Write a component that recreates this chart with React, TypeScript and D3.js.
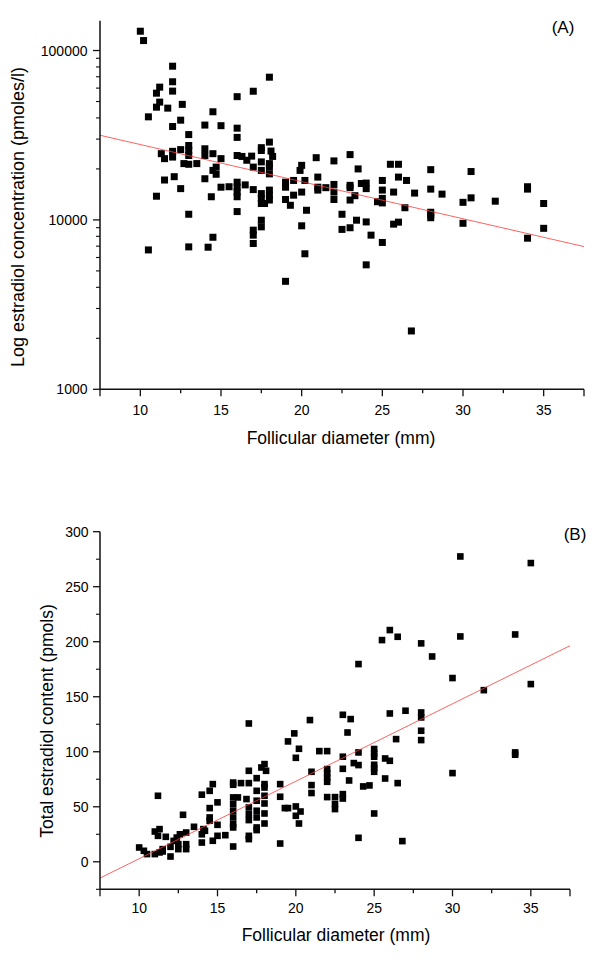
import React from "react";
import * as d3 from "d3";

// Panel A: follicular diameter (mm) vs estradiol concentration (pmoles/l)
const diamA = [10.0,10.2,10.5,10.5,11.0,11.0,11.0,11.2,11.2,11.3,11.5,11.5,11.7,12.0,12.0,12.0,12.0,12.0,12.0,12.1,12.5,12.5,12.5,12.6,12.7,13.0,13.0,13.0,13.0,13.0,13.0,13.0,13.5,14.0,14.0,14.0,14.0,14.2,14.4,14.5,14.5,14.5,14.5,14.7,14.7,15.0,15.0,15.0,15.5,16.0,16.0,16.0,16.0,16.0,16.0,16.0,16.0,16.0,16.3,16.5,16.6,16.9,17.0,17.0,17.0,17.0,17.0,17.0,17.5,17.5,17.5,17.5,17.5,17.5,17.5,17.7,17.5,17.5,18.0,18.0,18.1,18.2,18.0,18.0,18.0,18.0,18.0,18.0,19.0,19.0,19.0,19.0,19.3,19.5,19.5,20.0,19.9,20.2,20.0,20.3,20.0,20.2,20.9,21.0,21.0,21.0,21.5,22.0,22.0,22.0,22.0,22.5,22.5,23.0,23.5,23.0,23.0,23.0,23.3,23.0,23.4,23.7,24.0,24.0,24.0,24.3,24.0,25.0,25.0,25.0,25.0,24.7,25.0,25.5,26.0,26.0,26.5,25.7,26.4,25.7,26.0,26.8,27.0,28.0,28.0,28.0,28.0,28.0,28.7,30.0,30.5,30.0,30.5,32.0,34.0,34.0,34.0,35.0,35.0];
const estradiolA = [130000,114500,40600,6650,56000,46300,13800,60800,49600,24600,23000,17200,45700,80800,65400,57600,35600,25400,23500,18000,38800,26000,15300,48100,21500,31900,27500,25800,24000,21300,10800,6930,21500,36300,26300,24000,17500,6900,13700,43500,24600,19600,7900,20500,18600,36000,23000,15600,15700,53400,34800,30700,24000,16700,15600,14600,13700,11200,23700,16100,22500,23800,57500,20500,15100,8700,8130,7260,26700,25700,22000,19600,14300,13400,12500,12500,9960,9100,69600,28800,25500,23700,21500,20500,18700,15000,14000,13100,16700,15600,13200,4340,12200,17100,14000,21000,19600,17100,14600,11400,9230,6310,23300,17900,15600,15000,15500,22300,16200,14600,13200,10800,8790,24300,20000,16000,15500,13100,13900,8990,9960,16400,16500,15300,9730,8130,5430,17100,15000,13400,12600,12800,7360,21300,21300,17900,17100,14600,11800,9440,9700,2210,14400,19800,15200,11100,10700,10300,14200,12700,13500,9550,19300,12900,15700,15200,7800,12500,8920];
const fitA_x = [7.5, 37.5];
const fitA_y = [31600, 6960];
const yTicksMajorA = [1000, 10000, 100000];
const yTicksMinorA = [2000,3000,4000,5000,6000,7000,8000,9000,20000,30000,40000,50000,60000,70000,80000,90000];

// Panel B: follicular diameter (mm) vs total estradiol content (pmols)
const diamB = [10.0,10.3,10.5,11.0,11.2,11.0,11.3,11.2,11.7,11.5,11.3,11.5,12.0,12.0,12.2,12.4,12.6,12.8,12.5,12.5,13.0,13.0,13.0,13.5,14.0,14.0,14.0,14.1,14.5,14.7,14.5,14.5,14.5,14.2,14.7,15.0,15.0,15.0,15.5,16.0,16.0,16.0,16.0,16.0,16.0,16.0,16.0,16.0,16.3,16.5,17.0,17.0,17.0,16.85,17.0,17.0,17.0,17.0,17.0,17.5,17.5,17.5,17.5,17.5,17.5,17.5,18.0,18.1,17.8,18.0,18.0,18.0,18.0,18.0,18.0,19.0,19.0,19.0,19.3,19.5,19.5,19.9,20.2,20.0,20.0,20.0,20.3,20.2,20.9,21.0,21.0,21.0,21.5,22.0,22.0,22.0,22.0,22.0,22.0,22.5,22.5,22.5,23.0,23.5,23.3,23.0,23.0,23.0,23.0,23.4,23.7,24.0,24.0,24.0,24.0,24.3,24.7,25.0,25.0,25.0,25.0,25.0,25.0,25.0,25.5,25.7,25.7,26.0,26.0,26.0,26.4,26.5,26.5,26.8,27.0,28.0,28.0,28.0,28.0,28.0,28.7,30.0,30.0,30.5,30.5,32.0,34.0,34.0,34.0,35.0,35.0];
const contentB = [13,10,7,7,60,27.5,29.7,23.6,22.7,11.5,8.5,9.4,13.6,4.8,19,22,25,42.7,16,11.5,26.6,16,11.5,31.8,61,25,17.5,29.7,64.5,70.6,48.8,40.3,37.3,28.2,19.1,54,33.6,23.6,24.2,72,70,58.5,52.4,46.4,40.3,34.3,31.2,13.9,58.5,71.5,125.7,82.7,71.5,57,49.4,43.3,37.9,23.6,20.6,76,64.5,55.5,46.4,40.3,31.2,28.8,88.8,82.7,85.7,70.6,67.5,60,53,43.9,34.8,70.6,59.1,16.6,48.8,48.8,109.4,116.7,102.7,94.5,50.3,41.8,45.7,34.8,128.8,81.8,69.7,62.5,100.6,100.6,84.3,80.3,76.6,72.7,58.8,58.8,52.5,47.9,133.6,129.7,117.5,95.5,84.5,61.5,57.5,73.9,89.7,87.9,99.4,179.7,21.8,68.5,69.4,102.5,98.5,95.5,88.2,85.2,81.8,43.9,201.5,93.9,75.7,210.6,134.8,91.8,111.5,204.5,71.5,18.8,137.3,198.5,135.7,131.2,119.1,110.6,186.6,167,80.6,277.5,204.8,156,206.6,99.4,97.3,271.5,161.5];
const fitB_x = [7.5, 37.5];
const fitB_y = [-14.8, 196.4];
const yTicksMajorB = [0, 50, 100, 150, 200, 250, 300];
const yTicksMinorB = [-25, 25, 75, 125, 175, 225, 275];

const xTicksMajor = [10, 15, 20, 25, 30, 35];
const xTicksAll = [7.5, 10, 12.5, 15, 17.5, 20, 22.5, 25, 27.5, 30, 32.5, 35, 37.5];

const FONT = "'Liberation Sans', Arial, sans-serif";
const AXIS = "#111";

function XAxis({ x, y0, labelY }: { x: d3.ScaleLinear<number, number>; y0: number; labelY: number }) {
  const [a, b] = x.range();
  return (
    <g>
      <line x1={a} x2={b} y1={y0} y2={y0} stroke={AXIS} strokeWidth={1.5} />
      {xTicksAll.map((t) => {
        const major = t % 5 === 0 || t === 7.5 || t === 37.5;
        return <line key={t} x1={x(t)} x2={x(t)} y1={y0} y2={y0 + (major ? 7 : 4)} stroke={AXIS} strokeWidth={1.3} />;
      })}
      {xTicksMajor.map((t) => (
        <text key={"l" + t} x={x(t)} y={labelY} textAnchor="middle" fontSize={14} fontFamily={FONT} fill="#000">{t}</text>
      ))}
    </g>
  );
}

export default function App() {
  // Panel A scales
  const xA = d3.scaleLinear().domain([7.5, 37.5]).range([100, 584]);
  const yA = d3.scaleLog().domain([1000, 150000]).range([389.3, 20.7]);
  // Panel B scales
  const xB = d3.scaleLinear().domain([7.5, 37.5]).range([100, 570]);
  const yB = d3.scaleLinear().domain([-25, 300]).range([889.3, 531.7]);

  const ptsA = diamA.map((d, i) => ({ x: d, y: estradiolA[i] }));
  const ptsB = diamB.map((d, i) => ({ x: d, y: contentB[i] }));
  const lineA = d3.line<number>().x((d) => xA(d)).y((d, i) => yA(fitA_y[i]));
  const lineB = d3.line<number>().x((d) => xB(d)).y((d, i) => yB(fitB_y[i]));

  const sA = 7;
  const sB = 6.6;

  return (
    <svg width={600} height={966} style={{ position: "absolute", left: 0, top: 0, background: "#fff" }} fontFamily={FONT}>
      <rect width={600} height={966} fill="#fff" />
      {/* Panel A */}
      <g>
        {ptsA.map((p, i) => (
          <rect key={i} x={xA(p.x) - sA / 2} y={yA(p.y) - sA / 2} width={sA} height={sA} fill="#000" />
        ))}
        <path d={lineA(fitA_x) || ""} stroke="#ff3b3b" strokeWidth={0.8} fill="none" />
        <line x1={100} x2={100} y1={yA.range()[1]} y2={yA.range()[0]} stroke={AXIS} strokeWidth={1.5} />
        {yTicksMajorA.map((t) => (
          <g key={t}>
            <line x1={93} x2={100} y1={yA(t)} y2={yA(t)} stroke={AXIS} strokeWidth={1.3} />
            <text x={87.5} y={yA(t) + 5} textAnchor="end" fontSize={14} fill="#000">{t}</text>
          </g>
        ))}
        {yTicksMinorA.map((t) => (
          <line key={t} x1={96} x2={100} y1={yA(t)} y2={yA(t)} stroke={AXIS} strokeWidth={1.1} />
        ))}
        <XAxis x={xA} y0={389.3} labelY={414.5} />
        <text x={341} y={444} textAnchor="middle" fontSize={17.5} fill="#000">Follicular diameter (mm)</text>
        <text transform="translate(24,217) rotate(-90)" textAnchor="middle" fontSize={18} fill="#000">Log estradiol concentration (pmoles/l)</text>
        <text x={563} y={33} textAnchor="middle" fontSize={17} fill="#000">(A)</text>
      </g>
      {/* Panel B */}
      <g>
        {ptsB.map((p, i) => (
          <rect key={i} x={xB(p.x) - sB / 2} y={yB(p.y) - sB / 2} width={sB} height={sB} fill="#000" />
        ))}
        <path d={lineB(fitB_x) || ""} stroke="#ff3b3b" strokeWidth={0.8} fill="none" />
        <line x1={100} x2={100} y1={yB.range()[1]} y2={yB.range()[0]} stroke={AXIS} strokeWidth={1.5} />
        {yTicksMajorB.map((t) => (
          <g key={t}>
            <line x1={93} x2={100} y1={yB(t)} y2={yB(t)} stroke={AXIS} strokeWidth={1.3} />
            <text x={88.5} y={yB(t) + 5} textAnchor="end" fontSize={14} fill="#000">{t}</text>
          </g>
        ))}
        {yTicksMinorB.map((t) => (
          <line key={t} x1={96} x2={100} y1={yB(t)} y2={yB(t)} stroke={AXIS} strokeWidth={1.1} />
        ))}
        <XAxis x={xB} y0={889.3} labelY={912.5} />
        <text x={336} y={941} textAnchor="middle" fontSize={17.5} fill="#000">Follicular diameter (mm)</text>
        <text transform="translate(53,721) rotate(-90)" textAnchor="middle" fontSize={17.5} fill="#000">Total estradiol content (pmols)</text>
        <text x={575} y={540} textAnchor="middle" fontSize={17} fill="#000">(B)</text>
      </g>
    </svg>
  );
}
